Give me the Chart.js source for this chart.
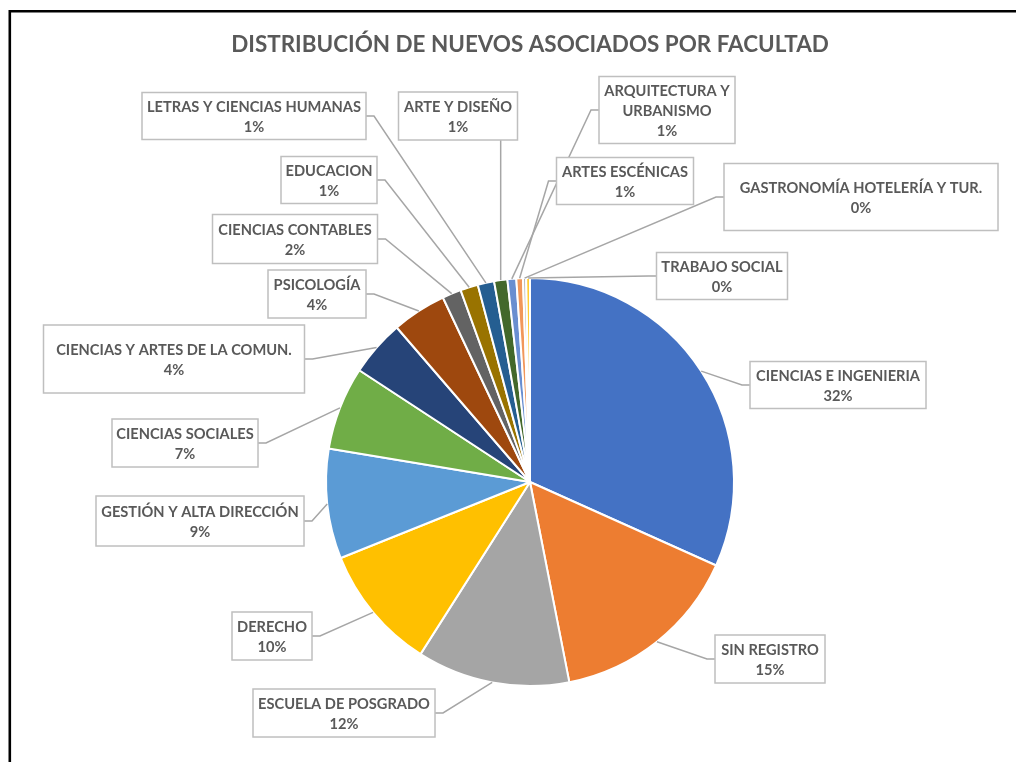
<!DOCTYPE html>
<html lang="es">
<head>
<meta charset="utf-8">
<title>Distribución de nuevos asociados por facultad</title>
<script src="https://cdn.jsdelivr.net/npm/chart.js@4.4.1/dist/chart.umd.min.js"></script>
<style>
  html, body { margin: 0; padding: 0; background: #fff; }
  #wrap { width: 1016px; height: 762px; position: relative; }
</style>
</head>
<body>
<div id="wrap"><canvas id="facultadChart"></canvas></div>
<script>
// Datos (porcentaje aproximado de cada facultad)
const titulo = 'DISTRIBUCIÓN DE NUEVOS ASOCIADOS POR FACULTAD';
const facultades = [
  'CIENCIAS E INGENIERIA', 'SIN REGISTRO', 'ESCUELA DE POSGRADO', 'DERECHO',
  'GESTIÓN Y ALTA DIRECCIÓN', 'CIENCIAS SOCIALES', 'CIENCIAS Y ARTES DE LA COMUN.',
  'PSICOLOGÍA', 'CIENCIAS CONTABLES', 'EDUCACION', 'LETRAS Y CIENCIAS HUMANAS',
  'ARTE Y DISEÑO', 'ARQUITECTURA Y URBANISMO', 'ARTES ESCÉNICAS',
  'GASTRONOMÍA HOTELERÍA Y TUR.', 'TRABAJO SOCIAL'
];
const valores = [31.7, 15.2, 12.1, 9.9, 8.7, 6.6, 4.45, 4.3, 1.5, 1.4, 1.3, 1.05, 0.7, 0.52, 0.25, 0.3];
const colores = [
  '#4472C4', '#ED7D31', '#A5A5A5', '#FFC000', '#5B9BD5', '#70AD47', '#264478', '#9E480E',
  '#636363', '#997300', '#255E91', '#43682B', '#698ED0', '#F1975A', '#B7B7B7', '#FFCD33'
];

// Cajas de etiqueta: centro relativo al centro del pie (dx, dy) y tamaño (w, h)
const cajas = [
  [308, -97, 176, 47], [240, 177, 110, 48], [-186, 231, 182, 48], [-258, 154, 80, 48],
  [-330, 39, 208, 50], [-345, -39, 146, 48], [-356, -123, 261, 68], [-213, -188, 98, 48],
  [-235, -243, 165, 49], [-201, -302, 96, 47], [-276, -366, 224, 47], [-72, -366, 119, 48],
  [137, -372, 136, 67], [95, -301, 137, 47], [331, -285, 274, 67], [192, -206, 131, 47]
];

const FUENTE = 'Lato';

// tamaño del título para que ocupe el mismo ancho que el original (~598px)
const medir = document.createElement('canvas').getContext('2d');
medir.font = 'bold 20px ' + FUENTE;
const tamTitulo = Math.min(27, 20 * 598 / medir.measureText(titulo).width);

// Marco negro del gráfico (como la captura original)
const marco = {
  id: 'marco',
  beforeDraw(chart) {
    const ctx = chart.ctx;
    ctx.save();
    ctx.fillStyle = '#fff';
    ctx.fillRect(0, 0, chart.width, chart.height);
    ctx.strokeStyle = '#000';
    ctx.lineWidth = 2.6;
    ctx.beginPath();
    ctx.moveTo(9.8, chart.height);
    ctx.lineTo(9.8, 11.3);
    ctx.lineTo(chart.width, 11.3);
    ctx.stroke();
    ctx.restore();
  }
};

function partirTexto(ctx, texto, maxW, cond) {
  if (ctx.measureText(texto).width * cond <= maxW) return [texto];
  const palabras = texto.split(' ');
  const lineas = [];
  let actual = '';
  palabras.forEach(p => {
    const prueba = actual ? actual + ' ' + p : p;
    if (actual && ctx.measureText(prueba).width * cond > maxW) {
      lineas.push(actual);
      actual = p;
    } else {
      actual = prueba;
    }
  });
  lineas.push(actual);
  return lineas;
}

// Etiquetas con caja y línea guía
const etiquetas = {
  id: 'etiquetas',
  afterDatasetsDraw(chart) {
    const ctx = chart.ctx;
    const arcs = chart.getDatasetMeta(0).data;
    const total = valores.reduce((a, b) => a + b, 0);
    ctx.save();

    // primero las líneas guía
    ctx.strokeStyle = '#A6A6A6';
    ctx.lineWidth = 1.5;
    arcs.forEach((arc, i) => {
      const [dx, dy, w, h] = cajas[i];
      const bx = arc.x + dx - w / 2, by = arc.y + dy - h / 2;
      const mid = (arc.startAngle + arc.endAngle) / 2;
      const px = arc.x + Math.cos(mid) * arc.outerRadius;
      const py = arc.y + Math.sin(mid) * arc.outerRadius;
      ctx.beginPath();
      ctx.moveTo(px, py);
      if (px > bx && px < bx + w) {
        ctx.lineTo(px, by + h);
      } else if (px < bx) {
        ctx.lineTo(bx - 8, by + h / 2);
        ctx.lineTo(bx, by + h / 2);
      } else {
        ctx.lineTo(bx + w + 8, by + h / 2);
        ctx.lineTo(bx + w, by + h / 2);
      }
      ctx.stroke();
    });

    // luego las cajas con texto
    ctx.font = 'bold 15px ' + FUENTE;
    ctx.textAlign = 'center';
    ctx.textBaseline = 'middle';
    // ancho del texto como en el original (CIENCIAS E INGENIERIA ~164px)
    const cond = Math.min(1.05, 164 / ctx.measureText(facultades[0]).width);
    arcs.forEach((arc, i) => {
      const [dx, dy, w, h] = cajas[i];
      const bx = arc.x + dx - w / 2, by = arc.y + dy - h / 2;
      ctx.fillStyle = '#fff';
      ctx.fillRect(bx, by, w, h);
      ctx.strokeStyle = '#BFBFBF';
      ctx.lineWidth = 1.5;
      ctx.strokeRect(bx, by, w, h);

      const lineas = partirTexto(ctx, facultades[i], w - 4, cond);
      lineas.push(Math.round(valores[i] / total * 100) + '%');
      const lh = 20;
      const y0 = arc.y + dy - (lineas.length - 1) * lh / 2 + 1;
      ctx.fillStyle = '#595959';
      lineas.forEach((t, k) => {
        const tw = ctx.measureText(t).width * cond;
        ctx.fillText(t, arc.x + dx, y0 + k * lh, tw);
      });
    });
    ctx.restore();
  }
};

const padTop = 45 - tamTitulo * 0.6;
const ctx = document.getElementById('facultadChart').getContext('2d');
new Chart(ctx, {
  type: 'pie',
  data: {
    labels: facultades,
    datasets: [{
      data: valores,
      backgroundColor: colores,
      borderColor: '#fff',
      borderWidth: 2
    }]
  },
  options: {
    responsive: true,
    maintainAspectRatio: false,
    animation: false,
    // área desplazada para que el pie quede centrado en x≈530
    layout: { padding: { left: 44, right: 0, top: 0, bottom: 75 } },
    plugins: {
      legend: { display: false },
      tooltip: { enabled: false },
      title: {
        display: true,
        text: titulo,
        color: '#595959',
        font: { family: FUENTE, size: tamTitulo, weight: 'bold', lineHeight: 1.2 },
        padding: { top: padTop, bottom: 277 - padTop - tamTitulo * 1.2 }
      }
    }
  },
  plugins: [marco, etiquetas]
});
</script>
</body>
</html>
